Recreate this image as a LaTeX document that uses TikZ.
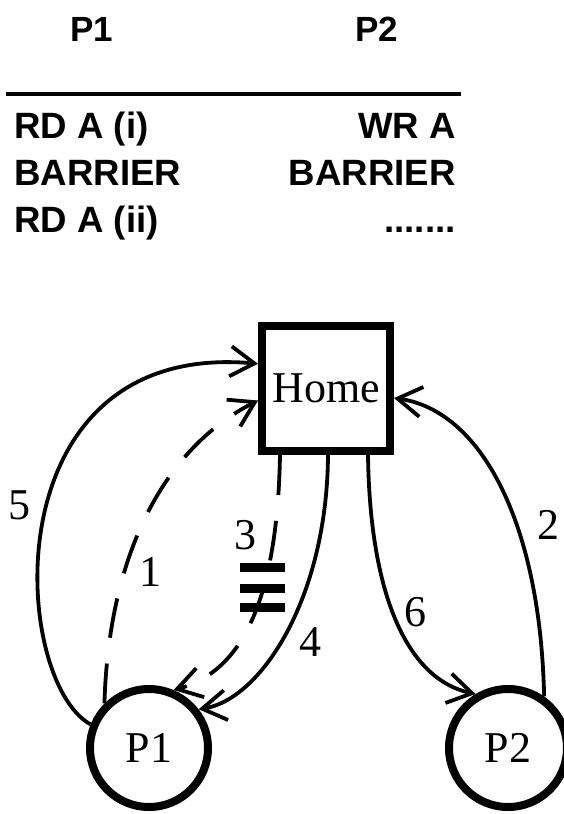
\documentclass[tikz,border=0pt]{standalone}
\usepackage{fontspec}
\setmainfont{Liberation Serif}
\setsansfont{Liberation Sans}
\usetikzlibrary{arrows.meta, positioning}

\begin{document}
\begin{tikzpicture}[
    x=0.5pt, y=-0.5pt,
    every node/.style={font=\fontsize{22}{26}\selectfont},
    proc/.style={draw, circle, line width=4pt, minimum size=59pt, inner sep=0pt},
    home/.style={draw, rectangle, line width=4pt, minimum width=64pt, minimum height=62.5pt, inner sep=0pt},
    msg/.style={line width=1.9pt, -{Straight Barb[length=12pt,width=15pt]}},
    req/.style={msg, dash pattern=on 20pt off 13pt},
    lbl/.style={inner sep=0pt},
    head/.style={font=\sffamily\bfseries\fontsize{17.5}{21}\selectfont, inner sep=0pt, anchor=base},
    code/.style={font=\sffamily\bfseries\fontsize{18.3}{22}\selectfont, inner sep=0pt}
  ]
  \useasboundingbox (0,0) rectangle (563,814);

  % program listing
  \node[head] (h1) at (92,41) {P1};
  \node[head] (h2) at (377,41) {P2};
  \draw[line width=1.8pt] (6,94) -- (461,94);
  \node[code, anchor=base west] (a1) at (14,138) {RD A (i)};
  \node[code, anchor=base west] (a2) at (14,185) {BARRIER};
  \node[code, anchor=base west] (a3) at (14,232) {RD A (ii)};
  \node[code, anchor=base east] (b1) at (456,138) {WR A};
  \node[code, anchor=base east] (b2) at (456,185) {BARRIER};
  \node[code, anchor=base east] (b3) at (456,232) {.......};

  % nodes
  \node[home] (home) at (326,388.5) {Home};
  \node[proc] (p1) at (149,748) {P1};
  \node[proc] (p2) at (508,748) {P2};

  % messages
  \draw[req] (p1.135) .. controls +(4,-143) and +(-98,50) .. (home.190);
  \draw[msg] (p2.55) .. controls +(-4,-176) and +(86,12) .. (home.352);
  \draw[req] ([xshift=-23pt]home.south) .. controls +(-3,165) and +(58,-16) .. (p1.67);
  \draw[msg] ([xshift=1pt]home.south) .. controls +(-1,145) and +(61,-9) .. (p1.38);
  \draw[msg] (p1.158) .. controls +(-80,-44) and +(-268,-24) .. (home.160);
  \draw[msg] ([xshift=21pt]home.south) .. controls +(2,145) and +(-66,-14) .. (p2.121);

  % not-equal mark
  \foreach \y in {563,584,603}
    \fill (240,\y) rectangle (285,\y+9);

  % labels
  \node[lbl] (l1) at (150,572) {1};
  \node[lbl] (l2) at (548,525) {2};
  \node[lbl] (l3) at (245,535) {3};
  \node[lbl] (l4) at (310,642) {4};
  \node[lbl] (l5) at (20,505) {5};
  \node[lbl] (l6) at (415,612) {6};
\end{tikzpicture}
\end{document}
